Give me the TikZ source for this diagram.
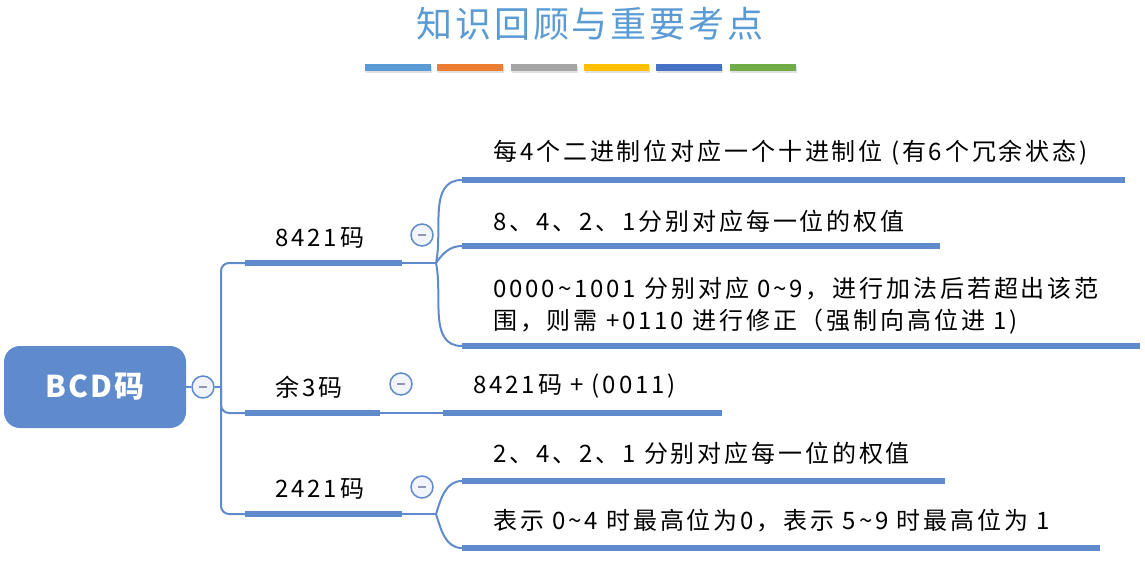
\documentclass[tikz,border=0pt]{standalone}
\usepackage{fontspec}
\newfontfamily\cjkfont{Noto Sans CJK SC}[LetterSpace=12]
\newfontfamily\rootfont{Noto Sans CJK SC}[LetterSpace=6]
\newfontfamily\titlefont{Noto Sans CJK SC}[LetterSpace=8]
\usetikzlibrary{calc}
\definecolor{branch}{HTML}{5F8BCD}
\definecolor{titleblue}{HTML}{5B9BD5}
\definecolor{foldfill}{HTML}{F1F4FA}
\definecolor{foldmark}{HTML}{8E95B5}
\definecolor{barA}{HTML}{5B9BD5}
\definecolor{barB}{HTML}{ED7D31}
\definecolor{barC}{HTML}{A5A5A5}
\definecolor{barD}{HTML}{FFC000}
\definecolor{barE}{HTML}{4472C4}
\definecolor{barF}{HTML}{70AD47}

\begin{document}
\begin{tikzpicture}[x=1pt, y=-1pt,
	topic/.style={anchor=west, inner sep=0pt, align=left,
		font=\cjkfont\fontsize{24}{32}\selectfont, text=black},
	rootbox/.style={rectangle, rounded corners=16pt, fill=branch,
		minimum width=182pt, minimum height=82pt, text=white,
		font=\rootfont\bfseries\fontsize{30}{34}\selectfont},
	bar/.style={draw=branch, line width=6pt},
	link/.style={draw=branch, line width=2pt},
	fold/.style={circle, draw=branch, line width=1.5pt, fill=foldfill,
		minimum size=22pt, inner sep=0pt,
		path picture={\draw[foldmark, line width=2pt]
			([xshift=-4pt]path picture bounding box.center) --
			([xshift=4pt]path picture bounding box.center);}}
]
	\useasboundingbox (0,0) rectangle (1145,564);
	
	% title and colour strip
	\node[text=titleblue, font=\titlefont\fontsize{36}{40}\selectfont] (title) at (590,24) {知识回顾与重要考点};
	
	\fill[black!12] (366,66) rectangle (432,73);
	\fill[black!12] (438,66) rectangle (504,73);
	\fill[black!12] (512,66) rectangle (578,73);
	\fill[black!12] (585,66) rectangle (650,73);
	\fill[black!12] (657,66) rectangle (723,73);
	\fill[black!12] (731,66) rectangle (797,73);
	\fill[barA] (365,64) rectangle (431,71);
	\fill[barB] (437,64) rectangle (503,71);
	\fill[barC] (511,64) rectangle (577,71);
	\fill[barD] (584,64) rectangle (649,71);
	\fill[barE] (656,64) rectangle (722,71);
	\fill[barF] (730,64) rectangle (796,71);
	
	% root
	\node[rootbox] (root) at (95,387) {BCD码};
	\node[fold] (f0) at (203,387) {};
	\coordinate (j0) at (221,387);
	\draw[link] (root.east) -- (f0.west);
	\draw[link] (f0.east) -- (j0);
	
	% main branches
	\coordinate (b1s) at (245,263);
	\coordinate (b1e) at (402,263);
	\coordinate (s1) at (436,263);
	\coordinate (b2s) at (245,413);
	\coordinate (b2e) at (380,413);
	\coordinate (s2) at (443,413);
	\coordinate (b3s) at (245,514);
	\coordinate (b3e) at (402,514);
	\coordinate (s3) at (436,514);
	
	\draw[link, rounded corners=8pt] (j0) |- (b1s);
	\draw[link, rounded corners=8pt] (j0) |- (b2s);
	\draw[link, rounded corners=8pt] (j0) |- (b3s);
	
	\draw[bar] (b1s) -- (b1e);
	\draw[bar] (b2s) -- (b2e);
	\draw[bar] (b3s) -- (b3e);
	\draw[link] (b1e) -- (s1);
	\draw[link] (b2e) -- (s2);
	\draw[link] (b3e) -- (s3);
	
	\node[topic] (l1) at (275,238) {8421码};
	\node[topic] (l2) at (275,387) {余3码};
	\node[topic] (l3) at (275,489) {2421码};
	
	\node[fold] (f1) at (422,235) {};
	\node[fold] (f2) at (401,384) {};
	\node[fold] (f3) at (422,487) {};
	
	% 8421 children
	\coordinate (c11) at (462,180);
	\coordinate (c12) at (462,246);
	\coordinate (c13) at (462,346);
	\draw[link] (s1) to[out=78, in=180] (c11);
	\draw[link] (s1) to[out=55, in=180] (c12);
	\draw[link] (s1) to[out=-78, in=180] (c13);
	\draw[bar] (c11) -- (1125,180);
	\draw[bar] (c12) -- (940,246);
	\draw[bar] (c13) -- (1140,346);
	
	\node[topic] (t11) at (493,153) {每4个二进制位对应一个十进制位 (有6个冗余状态)};
	\node[topic] (t12) at (493,221) {8、4、2、1分别对应每一位的权值};
	\node[topic] (t13) at (493,306) {0000\textasciitilde1001 分别对应 0\textasciitilde9，进行加法后若超出该范\\围，则需 +0110 进行修正（强制向高位进 1)};
	
	% excess-3 child
	\draw[bar] (s2) -- (722,413);
	\node[topic] (t21) at (473,386) {8421码 + (0011)};
	
	% 2421 children
	\coordinate (c31) at (462,481);
	\coordinate (c32) at (462,548);
	\draw[link] (s3) to[out=72, in=180] (c31);
	\draw[link] (s3) to[out=-72, in=180] (c32);
	\draw[bar] (c31) -- (945,481);
	\draw[bar] (c32) -- (1100,548);
	
	\node[topic] (t31) at (493,453) {2、4、2、1 分别对应每一位的权值};
	\node[topic] (t32) at (493,521) {表示 0\textasciitilde4 时最高位为0，表示 5\textasciitilde9 时最高位为 1};
	
\end{tikzpicture}
\end{document}
